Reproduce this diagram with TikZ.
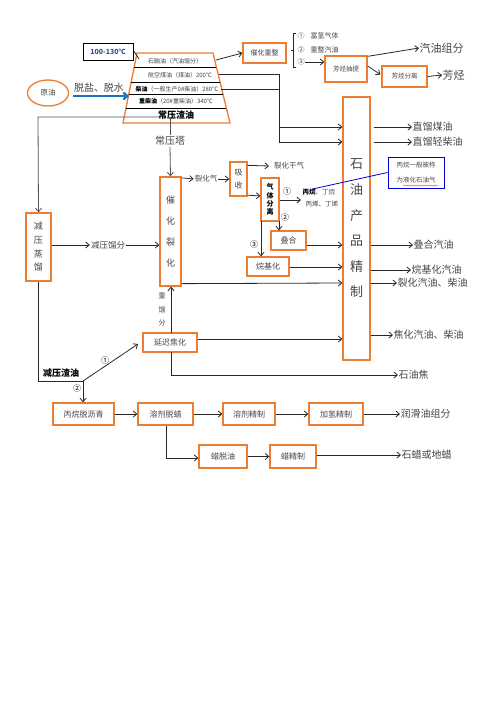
\documentclass[tikz,border=0pt]{standalone}
\usepackage{fontspec}
\setmainfont{Noto Sans CJK SC}
\usetikzlibrary{arrows.meta,calc,decorations.pathmorphing,shapes.geometric}
\definecolor{org}{RGB}{237,125,49}
\definecolor{lbl}{RGB}{70,70,70}
\definecolor{lin}{RGB}{40,40,40}
\definecolor{bluearr}{RGB}{30,115,190}
\definecolor{tempblue}{RGB}{47,84,150}
\begin{document}
\begin{tikzpicture}[x=1pt,y=-1pt,
  box/.style={draw=org,line width=1.3pt,fill=white,inner sep=0pt,text=lbl,font=\fontsize{7}{8}\selectfont,align=center},
  arr/.style={-{Straight Barb[length=3.5pt,width=6pt]},line width=0.8pt,draw=lin},
  ln/.style={line width=0.8pt,draw=lin},
  outl/.style={font=\fontsize{10}{11}\selectfont,text=lbl,anchor=west,inner sep=0.5pt},
  sm/.style={font=\fontsize{6.5}{7}\selectfont,text=lbl,inner sep=0.5pt},
  mid/.style={font=\fontsize{8.5}{9}\selectfont,text=lbl,inner sep=1pt,fill=white}
]
\useasboundingbox (0,0) rectangle (496,702);

% ---------- tower ----------
\coordinate (tl) at (137,53);
\coordinate (tr) at (213,53);
\coordinate (bl) at (123,123);
\coordinate (br) at (230,123);
\draw[draw=org,line width=1.3pt,fill=white] (tl) -- (tr) -- (br) -- (bl) -- cycle;
\foreach \t in {0.2,0.414,0.586,0.786}
  \draw[line width=0.9pt,black] ($(tl)!\t!(bl)$) -- ($(tr)!\t!(br)$);
\node[sm,font=\fontsize{6}{7}\selectfont] (r1) at (175,61) {石脑油（汽油馏分）};
\node[sm,font=\fontsize{6}{7}\selectfont] (r2) at (180,75) {航空煤油（煤油）200℃};
\node[sm,font=\fontsize{6}{7}\selectfont] (r3) at (177,89) {\textbf{\color{black}柴油}（一般生产0\#柴油）280℃};
\node[sm,font=\fontsize{6}{7}\selectfont] (r4) at (176,101) {\textbf{\color{black}重柴油}（20\#重柴油）340℃};
\node[font=\bfseries\fontsize{9}{10}\selectfont,inner sep=0.5pt] (r5) at (176,115) {常压渣油};
\coordinate (towerR1) at (216,60);
\coordinate (towerR2) at (219,74);
\coordinate (towerR3) at (221,89);
\coordinate (towerL) at (160,117);
\coordinate (towerB) at (170,118);

% ---------- temperature note ----------
\node[draw=black,line width=0.9pt,minimum width=50pt,minimum height=17pt,inner sep=0pt,
      font=\bfseries\fontsize{7}{8}\selectfont,text=tempblue] (temp) at (108,51.5) {100-130℃};
\coordinate (tempT) at (139,59);
\draw[line width=0.6pt] (temp.east) ++(0,-1) -- (tempT);

% ---------- crude oil ----------
\node[draw=org,line width=1.3pt,ellipse,minimum width=41pt,minimum height=26pt,inner sep=0pt,
      font=\fontsize{7.5}{8}\selectfont,text=lbl] (crude) at (48,93) {原油};
\coordinate (crudeT) at (129,96);
\draw[-{Straight Barb[length=4pt,width=7pt]},line width=2.2pt,bluearr] (73,96) -- (crudeT);
\node[font=\fontsize{10}{11}\selectfont,text=lbl,inner sep=0pt] (desalt) at (99,88) {脱盐、脱水};

% ---------- reforming ----------
\node[box,minimum width=43pt,minimum height=20pt] (reform) at (264.5,53) {催化重整};
\draw[arr] (towerR1) -- (reform.west);
\draw[line width=0.7pt,lin] (296,33) -- (293,33) -- (293,67) -- (296,67);
\draw[line width=0.7pt,lin] (293,50) -- (290.5,50);
\node[sm,font=\fontsize{7}{8}\selectfont,anchor=west] (c1) at (297,36) {①\hspace{6pt}富氢气体};
\node[sm,font=\fontsize{7}{8}\selectfont,anchor=west] (c2) at (297,50) {②\hspace{6pt}重整汽油};
\node[sm,font=\fontsize{7}{8}\selectfont,anchor=west] (c3) at (297,62) {③};
\node[box,minimum width=42pt,minimum height=26pt,font=\fontsize{6.5}{7}\selectfont] (arext) at (346,69) {芳烃抽提};
\node[box,minimum width=45pt,minimum height=21pt,font=\fontsize{6.5}{7}\selectfont] (arsep) at (404.5,76.5) {芳烃分离};
\draw[arr] (c3.east) -- (arext.west |- c3.east);
\node[outl,font=\fontsize{11}{12}\selectfont] (gascomp) at (419,48) {汽油组分};
\draw[arr] (arext.north east) ++(0,1) -- (gascomp.west);
\draw[arr] ($(arext.east)+(0,-3)$) -- ($(arsep.west)+(-1,-2)$);
\node[outl,font=\fontsize{11}{12}\selectfont] (arom) at (442,75) {芳烃};
\draw[arr] (arsep.east) -- (arom.west);

% ---------- refining box ----------
\node[box,minimum width=27pt,minimum height=263pt,font=\fontsize{13}{25.6}\selectfont] (refine) at (356.5,228.5) {石\\油\\产\\品\\精\\制};
\coordinate (j1) at (279,74);
\coordinate (j2) at (279,89);
\draw[ln] (towerR2) -- (j1);
\draw[ln] (towerR3) -- (j2);
\draw[arr] (j1) -- (279,127) -- (refine.west |- 0,127);
\draw[arr] (j2) -- (279,142) -- (refine.west |- 0,142);
\node[outl] (o1) at (412,127) {直馏煤油};
\node[outl] (o2) at (412,142) {直馏轻柴油};
\draw[arr] (refine.east |- o1) ++(3,0) -- (o1.west);
\draw[arr] (refine.east |- o2) ++(3,0) -- (o2.west);

% ---------- vacuum distillation ----------
\node[box,minimum width=25pt,minimum height=68pt,font=\fontsize{9}{13.7}\selectfont] (vac) at (38.5,247) {减\\压\\蒸\\馏};
\draw[arr,draw=lin!80] (towerL) -- (38,117) -- (vac.north);

% ---------- catalytic cracking ----------
\node[box,minimum width=21pt,minimum height=109pt,font=\fontsize{9}{21}\selectfont] (cat) at (170.5,231.5) {催\\化\\裂\\化};
\node[mid,font=\fontsize{10}{11}\selectfont] (atm) at (170,141) {常压塔};
\draw[ln,draw=lin!80] (towerB) -- (atm.north);
\draw[arr,draw=lin!80] (atm.south) -- (cat.north);
\node[mid] (vacfrac) at (108,245) {减压馏分};
\draw[arr] (vac.east |- vacfrac) -- (vacfrac.west);
\draw[arr] (vacfrac.east) -- (cat.west |- vacfrac);

% ---------- absorption / gas separation ----------
\node[box,minimum width=17pt,minimum height=34pt,font=\fontsize{8}{13}\selectfont] (abs) at (238.5,179) {吸\\收};
\node[mid,font=\fontsize{7.5}{8}\selectfont] (crgas) at (206,179) {裂化气};
\draw[arr] (cat.north east) ++(0,1.5) -- (crgas.west);
\draw[arr] (crgas.east) -- (abs.west |- crgas);
\node[mid,font=\fontsize{7.5}{8}\selectfont,anchor=west] (drygas) at (273,166) {裂化干气};
\draw[arr] ($(abs.north east)+(0,4)$) -- ($(drygas.west)+(-4,0)$);
\node[box,minimum width=18pt,minimum height=43pt,text=black,font=\bfseries\fontsize{7}{8.3}\selectfont] (gsep) at (270,199.5) {气\\体\\分\\离};
\draw[arr] ($(abs.south east)+(0,-1.5)$) -- (gsep.west |- 0,196);
\node[font=\fontsize{8}{9}\selectfont,inner sep=0pt] (n1) at (287,191) {①};
\node[font=\fontsize{8}{9}\selectfont,inner sep=0pt] (n2) at (285,217) {②};
\node[font=\fontsize{8}{9}\selectfont,inner sep=0pt] (n3) at (254,244) {③};
\node[sm,anchor=west] (c4a) at (302,192) {\textbf{\color{black}丙烷}、丁烷};
\node[sm,anchor=west] (c4b) at (305,204) {丙烯、丁烯};
\draw[arr] (gsep.east |- 0,200) -- (301,200);
\node[box,minimum width=35pt,minimum height=19pt,font=\fontsize{8}{9}\selectfont] (olig) at (288.5,240.5) {叠合};
\node[box,minimum width=42pt,minimum height=19pt,font=\fontsize{8}{9}\selectfont] (alky) at (268,266.5) {烷基化};
\draw[arr] (279,221) -- (olig.north -| 279,0);
\draw[arr] (261,221) -- (alky.north -| 261,0);
\draw[arr] (olig.east |- 0,245) -- (refine.west |- 0,245);
\draw[arr] (alky.east |- 0,267) -- (refine.west |- 0,267);
\draw[arr] (cat.south east) ++(0,-3) -- (refine.west |- 0,283);

% ---------- LPG note ----------
\node[draw=blue!85!black,line width=1pt,minimum width=56pt,minimum height=31pt,inner sep=0pt,
      font=\fontsize{6.5}{15}\selectfont,text=lbl,align=center] (note) at (416,172.5) {丙烷一般被称\\为液化石油气};
\draw[blue!85!black,line width=0.8pt] (c4a.north west) ++(10,1) -- (note.west);
\draw[red!80,line width=0.4pt,decorate,decoration={snake,amplitude=0.6pt,segment length=3pt}] (403,185.5) -- (438,185.5);

\node[outl] (o3) at (413,245) {叠合汽油};
\node[outl] (o4) at (411,270) {烷基化汽油};
\node[outl] (o5) at (397,283) {裂化汽油、柴油};
\node[outl] (o6) at (393,335) {焦化汽油、柴油};
\draw[arr] (refine.east |- o3) -- (o3.west);
\draw[arr] (refine.east |- o4) -- (o4.west);
\draw[arr] (refine.east |- o5) -- (o5.west);
\draw[arr] (refine.east |- o6) -- (o6.west);

% ---------- delayed coking ----------
\node[box,minimum width=54pt,minimum height=19pt,font=\fontsize{8}{9}\selectfont] (coke) at (170,342.5) {延迟焦化};
\draw[arr] (171,333) -- (cat.south -| 171,0);
\node[sm,font=\fontsize{7}{13.5}\selectfont,align=center] (heavy) at (162,309.5) {重\\馏\\分};
\draw[arr] (coke.east |- 0,339) -- (refine.west |- 0,339);
\node[outl] (o7) at (398,375) {石油焦};
\draw[arr] (171,352) -- (171,375) -- (o7.west);

% ---------- vacuum residue ----------
\coordinate (split) at (83,381);
\node[font=\bfseries\fontsize{9}{10}\selectfont,inner sep=0pt] (vres) at (61,373) {减压渣油};
\draw[ln] (vac.south -| 38,0) -- (38,381) -- (split);
\node[font=\fontsize{8}{9}\selectfont,inner sep=0pt] (n4) at (105,360) {①};
\node[font=\fontsize{8}{9}\selectfont,inner sep=0pt] (n5) at (77,388) {②};
\draw[arr] (split) -- (138,344);

\node[box,minimum width=61pt,minimum height=22pt,font=\fontsize{8}{9}\selectfont] (pda) at (83.5,414) {丙烷脱沥青};
\node[box,minimum width=55pt,minimum height=22pt,font=\fontsize{8}{9}\selectfont] (dewax) at (165.5,414) {溶剂脱蜡};
\node[box,minimum width=52pt,minimum height=22pt,font=\fontsize{8}{9}\selectfont] (sref) at (249,414) {溶剂精制};
\node[box,minimum width=54pt,minimum height=22pt,font=\fontsize{8}{9}\selectfont] (hyd) at (336,414) {加氢精制};
\node[outl] (o8) at (400,414) {润滑油组分};
\draw[arr] (split) -- (pda.north -| split);
\draw[arr] (pda) -- (dewax);
\draw[arr] (dewax) -- (sref);
\draw[arr] (sref) -- (hyd);
\draw[arr] (hyd) -- (o8.west);

\node[box,minimum width=48pt,minimum height=23pt,font=\fontsize{8}{9}\selectfont] (dwo) at (223,456.5) {蜡脱油};
\node[box,minimum width=46pt,minimum height=23pt,font=\fontsize{8}{9}\selectfont] (wref) at (293,456.5) {蜡精制};
\node[outl] (o9) at (401,455) {石蜡或地蜡};
\draw[arr] (dewax.south -| 166,0) -- (166,458) -- (dwo.west |- 0,458);
\draw[arr] (dwo) -- (wref);
\draw[arr] (wref.east |- o9) -- (o9.west);
\end{tikzpicture}
\end{document}
